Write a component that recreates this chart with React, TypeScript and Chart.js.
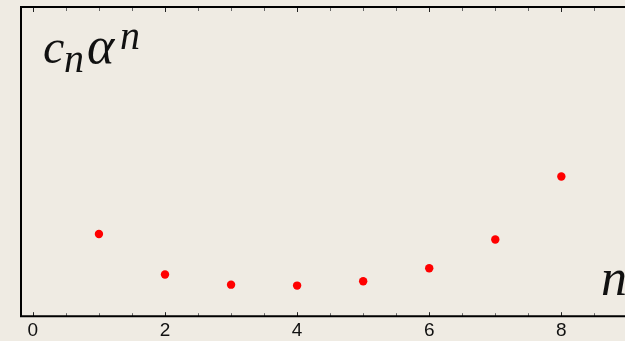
import React, { useEffect, useRef } from "react";
import { Chart, registerables } from "chart.js";

Chart.register(...registerables);

// Terms of the series, indexed by n
const nValues = [1, 2, 3, 4, 5, 6, 7, 8];
const termValues = [2.66, 1.35, 1.02, 0.99, 1.13, 1.55, 2.48, 4.52];
const xTickLabels = ["0", "2", "4", "6", "8"];

const BG = "#EFEBE3";

// Frame around the plot area with inward ticks, plus the axis captions
const framePlugin = {
  id: "frame",
  afterDraw(chart: any) {
    const { ctx, chartArea, scales } = chart;
    const { left, right, top, bottom } = chartArea;
    const xs = scales.x;
    ctx.save();
    // inward tick marks every 0.5 on top and bottom edges
    for (let v = 0; v <= xs.max + 1e-9; v += 0.5) {
      const px = Math.round(xs.getPixelForValue(v)) + 0.5;
      const major = Math.abs(v % 2) < 1e-9;
      ctx.strokeStyle = major ? "#222" : "#666";
      ctx.lineWidth = 1;
      const len = major ? 4 : 3;
      ctx.beginPath();
      ctx.moveTo(px, bottom);
      ctx.lineTo(px, bottom - len);
      ctx.moveTo(px, top);
      ctx.lineTo(px, top + len + 1);
      ctx.stroke();
    }
    // frame
    ctx.strokeStyle = "#000";
    ctx.lineWidth = 2;
    ctx.beginPath();
    ctx.moveTo(right + 5, top);
    ctx.lineTo(left, top);
    ctx.lineTo(left, bottom);
    ctx.lineTo(right + 5, bottom);
    ctx.stroke();

    // y caption: c_n α^n
    ctx.fillStyle = "#111";
    ctx.textBaseline = "alphabetic";
    ctx.textAlign = "left";
    const serif = "'Liberation Serif', 'DejaVu Serif', serif";
    ctx.font = `italic 48px ${serif}`;
    ctx.fillText("c", 43, 63);
    ctx.font = `italic 40px ${serif}`;
    ctx.fillText("n", 64, 72);
    ctx.font = `italic 52px ${serif}`;
    ctx.fillText("\u03B1", 87, 63);
    ctx.font = `italic 40px ${serif}`;
    ctx.fillText("n", 120, 49);

    // x caption: n
    ctx.font = `italic 52px ${serif}`;
    ctx.fillText("n", 601, 295);
    ctx.restore();
  },
};

const bgPlugin = {
  id: "bg",
  beforeDraw(chart: any) {
    const { ctx, width, height } = chart;
    ctx.save();
    ctx.fillStyle = BG;
    ctx.fillRect(0, 0, width, height);
    ctx.restore();
  },
};

export default function App() {
  const canvasRef = useRef<HTMLCanvasElement | null>(null);

  useEffect(() => {
    if (!canvasRef.current) return;
    const chart = new Chart(canvasRef.current, {
      type: "scatter",
      data: {
        datasets: [
          {
            data: nValues.map((n, i) => ({ x: n, y: termValues[i] })),
            backgroundColor: "#FF0000",
            borderWidth: 0,
            pointRadius: 4.2,
          },
        ],
      },
      options: {
        animation: false,
        responsive: false,
        maintainAspectRatio: false,
        layout: { padding: { left: 21, top: 7, right: 0, bottom: -4 } },
        plugins: {
          legend: { display: false },
          tooltip: { enabled: false },
        },
        scales: {
          x: {
            type: "linear",
            min: -0.18,
            max: 9.43,
            border: { display: false },
            grid: { display: false, drawTicks: false },
            ticks: {
              stepSize: 2,
              includeBounds: false,
              autoSkip: false,
              maxRotation: 0,
              padding: 3,
              color: "#111",
              font: { family: "'Liberation Sans', Arial, sans-serif", size: 19 },
              callback: (v: any) => {
                const s = String(v);
                return xTickLabels.includes(s) ? s : "";
              },
            },
          },
          y: {
            display: false,
            min: 0,
            max: 10,
          },
        },
      },
      plugins: [bgPlugin, framePlugin],
    });
    return () => chart.destroy();
  }, []);

  return (
    <div
      style={{
        position: "fixed",
        left: 0,
        top: 0,
        width: 625,
        height: 341,
        overflow: "hidden",
        background: BG,
      }}
    >
      <canvas ref={canvasRef} width={660} height={341} style={{ display: "block" }} />
    </div>
  );
}
